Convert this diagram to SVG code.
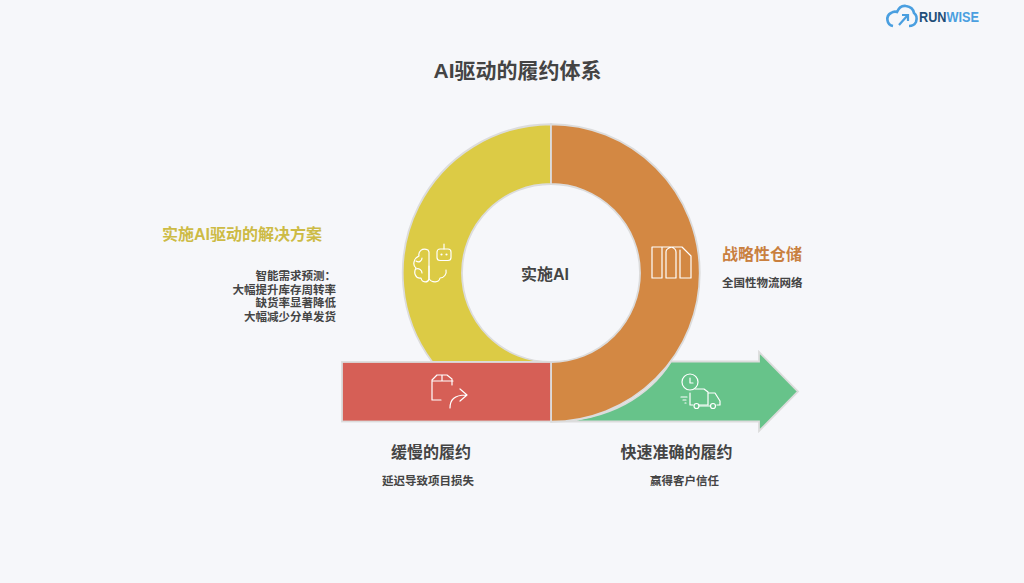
<svg xmlns="http://www.w3.org/2000/svg" width="1024" height="583" viewBox="0 0 1024 583">
<style>
text{font-family:"Liberation Sans","Noto Sans CJK SC",sans-serif;font-weight:700;fill:#444}
.h{font-size:16px}
.s{font-size:11.500px}
.shape{stroke:#dcdcdc;stroke-width:1.800}
.ic{fill:none;stroke:#fff;stroke-width:1.200;stroke-linecap:round;stroke-linejoin:round}
</style>
<rect width="1024" height="583" fill="#f6f7fa"/>
<g id="logo">
<path d="M893 26A7 7 0 0 1 891 13Q894 11 897 12Q900 5 906 6Q913 7 914 13Q918 16 916 22Q914 26 909 26" fill="none" stroke="#4a9fe0" stroke-width="2.600"/>
<path d="M899 25L907 16M902 15H908V21" fill="none" stroke="#4a9fe0" stroke-width="2.200"/>
<text x="919" y="22" textLength="60" lengthAdjust="spacingAndGlyphs" style="font-size:14px;font-family:'Liberation Sans',sans-serif;fill:#1f4e79">RUN<tspan fill="#4a9fe0">WISE</tspan></text>
</g>
<text x="517.500" y="78" text-anchor="middle" style="font-size:21px">AI驱动的履约体系</text>
<g id="fast">
<path class="shape" d="M551 421.500C610 421 650 395 671 361.500H759V352L798 391.500L759 431V421.500Z" fill="#67c38a"/>
<g class="ic" transform="translate(682,374)">
<circle cx="8" cy="8" r="8"/><path d="M8 4V9H11"/>
<path d="M13 15H22L26 18V31H17M26 19H33L38 27V31H35M8 19V31H11M-1 23H5M1 26H4M3 29H4"/>
<circle cx="14.500" cy="32" r="2.500"/><circle cx="31" cy="32" r="2.500"/><path d="M17 32H28.500"/>
</g>
</g>
<g id="yellow">
<path class="shape" d="M551 124.250A148.750 148.750 0 0 0 432.300 362H551A89 89 0 0 1 551 184Z" fill="#dccb45"/>
<g class="ic" transform="translate(413,244)">
<path d="M15 6C9 3 5 8 6 12C1 14-1 21 3 24C0 29 3 35 8 34C9 39 15 39 16 35V8Z"/>
<path d="M16 22V35C19 39 26 39 27 34C31 34 34 30 33 26"/>
<path d="M3 17C6 19 9 17 9 14M3 25C6 24 9 26 9 29"/>
<rect x="24" y="5" width="14" height="11.500" rx="3"/><path d="M31 5V0"/>
<circle cx="28.500" cy="10.500" r=".5"/><circle cx="33.500" cy="10.500" r=".5"/>
</g>
</g>
<g id="orange">
<path class="shape" d="M551 124.250A148.750 148.750 0 0 1 551 421.750V362A89 89 0 0 0 551 184Z" fill="#d38843"/>
<g class="ic" transform="translate(651,246)">
<path d="M1 32V1H31L40 10V32H29V4M1 32H11V1M15 32V6C15 2 19 2 20 1C23 2 25 3 25 6V32H15"/>
</g>
</g>
<g id="slow">
<rect class="shape" x="342" y="362" width="209" height="59.500" fill="#d65f56"/>
<g class="ic" transform="translate(431,374)">
<path d="M21 11V5L16 1H6L1 6V26H10M1 7H22M11 1V7"/>
<path d="M19 34C19 26 23 21 35 21M29 15L36 21L29 27"/>
</g>
</g>
<g id="center"><text x="545" y="280" text-anchor="middle" style="font-size:16px">实施AI</text></g>
<g id="label-left">
<text x="242" y="240" text-anchor="middle" style="font-size:16px;fill:#cdbb45">实施AI驱动的解决方案</text>
<text x="336" y="280" text-anchor="end" class="s">智能需求预测：</text>
<text x="336" y="293.500" text-anchor="end" class="s">大幅提升库存周转率</text>
<text x="336" y="307" text-anchor="end" class="s">缺货率显著降低</text>
<text x="336" y="320.500" text-anchor="end" class="s">大幅减少分单发货</text>
</g>
<g id="label-right">
<text x="722" y="260" style="font-size:16px;fill:#c9803f">战略性仓储</text>
<text x="722" y="287" class="s">全国性物流网络</text>
</g>
<g id="label-slow">
<text x="431" y="458" text-anchor="middle" class="h">缓慢的履约</text>
<text x="428" y="485" text-anchor="middle" class="s">延迟导致项目损失</text>
</g>
<g id="label-fast">
<text x="676.500" y="458" text-anchor="middle" class="h">快速准确的履约</text>
<text x="684.500" y="485" text-anchor="middle" class="s">赢得客户信任</text>
</g>
<g id="connectors"/>
</svg>
